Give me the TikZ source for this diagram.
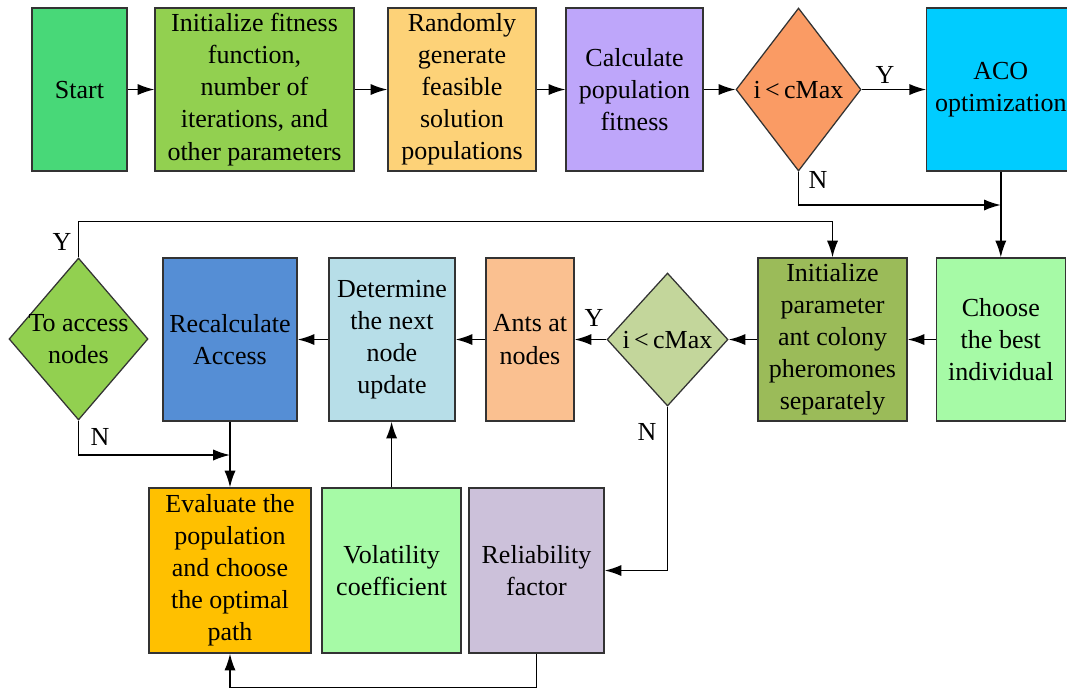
\documentclass[tikz,border=0pt]{standalone}
\usepackage{fontspec}
\setmainfont{Liberation Serif}
\usetikzlibrary{shapes.geometric,arrows.meta}

\definecolor{startcol}{RGB}{72,216,120}
\definecolor{initcol}{HTML}{92D050}
\definecolor{randcol}{RGB}{253,210,120}
\definecolor{calccol}{RGB}{190,166,250}
\definecolor{deconecol}{RGB}{250,155,100}
\definecolor{acocol}{HTML}{00CCFF}
\definecolor{lightgr}{RGB}{166,250,166}
\definecolor{olivecol}{HTML}{9BBB59}
\definecolor{dectwocol}{HTML}{C3D69B}
\definecolor{antscol}{HTML}{FAC090}
\definecolor{detcol}{HTML}{B7DEE8}
\definecolor{recalccol}{HTML}{558ED5}
\definecolor{evalcol}{HTML}{FFC000}
\definecolor{reliacol}{HTML}{CCC1DA}

\begin{document}
\begin{tikzpicture}[
    every node/.style={font=\fontsize{18.5}{22.8}\selectfont},
    blk/.style={draw=black!80, line width=0.9pt, align=center, inner sep=1pt},
    dec/.style={diamond, draw=black!80, line width=0.9pt, inner sep=0pt},
    arr/.style={-{Latex[length=4.2mm,width=2.8mm]}, line width=1.1pt}
  ]
    \useasboundingbox (0,0) rectangle (26.675,-17.225);

    \node[blk, fill=startcol, minimum width=2.375cm, minimum height=4.075cm] (start) at (1.988,-2.238) {Start};
    \node[blk, fill=initcol, minimum width=4.975cm, minimum height=4.075cm] (initfit) at (6.363,-2.238) {Initialize fitness\\function,\\number of\\iterations, and\\other parameters};
    \node[blk, fill=randcol, minimum width=3.7cm, minimum height=4.075cm] (randgen) at (11.55,-2.238) {Randomly\\generate\\feasible\\solution\\populations};
    \node[blk, fill=calccol, minimum width=3.425cm, minimum height=4.075cm] (calcfit) at (15.863,-2.238) {Calculate\\population\\fitness};
    \node[dec, fill=deconecol, minimum width=3.125cm, minimum height=4.075cm, label={center:i{\,}<{\,}cMax}] (decone) at (19.963,-2.238) {};
    \node[blk, fill=acocol, minimum width=3.7cm, minimum height=4.075cm] (aco) at (25.02,-2.238) {ACO\\optimization};

    \node[blk, fill=lightgr, minimum width=3.225cm, minimum height=4.075cm] (best) at (25.02,-8.488) {Choose\\the best\\individual};
    \node[blk, fill=olivecol, minimum width=3.725cm, minimum height=4.075cm] (initpar) at (20.813,-8.488) {Initialize\\parameter\\ant colony\\pheromones\\separately};
    \node[dec, fill=dectwocol, minimum width=3.025cm, minimum height=3.325cm, label={center:i{\,}<{\,}cMax}] (dectwo) at (16.688,-8.488) {};
    \node[blk, fill=antscol, minimum width=2.2cm, minimum height=4.075cm] (ants) at (13.25,-8.488) {Ants at\\nodes};
    \node[blk, fill=detcol, minimum width=3.15cm, minimum height=4.075cm] (determ) at (9.8,-8.488) {Determine\\the next\\node\\update};
    \node[blk, fill=recalccol, minimum width=3.35cm, minimum height=4.075cm] (recalc) at (5.75,-8.488) {Recalculate\\Access};
    \node[dec, fill=initcol, minimum width=3.475cm, minimum height=4.05cm, label={[align=center]center:To access\\nodes}] (decthree) at (1.963,-8.475) {};

    \node[blk, fill=evalcol, minimum width=4.05cm, minimum height=4.125cm] (eval) at (5.75,-14.263) {Evaluate the\\population\\and choose\\the optimal\\path};
    \node[blk, fill=lightgr, minimum width=3.475cm, minimum height=4.125cm] (volat) at (9.79,-14.263) {Volatility\\coefficient};
    \node[blk, fill=reliacol, minimum width=3.375cm, minimum height=4.125cm] (relia) at (13.413,-14.263) {Reliability\\factor};

    \coordinate (jone) at (25.02,-5.125);
    \coordinate (jtwo) at (5.75,-11.375);

    \draw[arr] (start) -- (initfit);
    \draw[arr] (initfit) -- (randgen);
    \draw[arr] (randgen) -- (calcfit);
    \draw[arr] (calcfit) -- (decone);
    \draw[arr] (decone) -- (aco);
    \draw[arr] (decone.south) |- (jone);
    \draw[arr] (aco) -- (best);
    \draw[arr] (best) -- (initpar);
    \draw[arr] (initpar) -- (dectwo);
    \draw[arr] (dectwo) -- (ants);
    \draw[arr] (ants) -- (determ);
    \draw[arr] (determ) -- (recalc);
    \draw[arr] (decthree.north) -- ++(0,0.9) -| (initpar.north);
    \draw[arr] (decthree.south) |- (jtwo);
    \draw[arr] (recalc) -- (eval);
    \draw[arr] (volat.north) -- (volat.north |- determ.south);
    \draw[arr] (dectwo.south) |- (relia.east);
    \draw[arr] (relia.south) -- ++(0,-0.85) -| (eval.south);

    \node (yone) at (22.125,-1.875) {Y};
    \node (none) at (20.45,-4.5) {N};
    \node (ytwo) at (14.85,-7.95) {Y};
    \node (ntwo) at (16.175,-10.8) {N};
    \node (ythree) at (1.55,-6.05) {Y};
    \node (nthree) at (2.5,-10.925) {N};
\end{tikzpicture}
\end{document}
